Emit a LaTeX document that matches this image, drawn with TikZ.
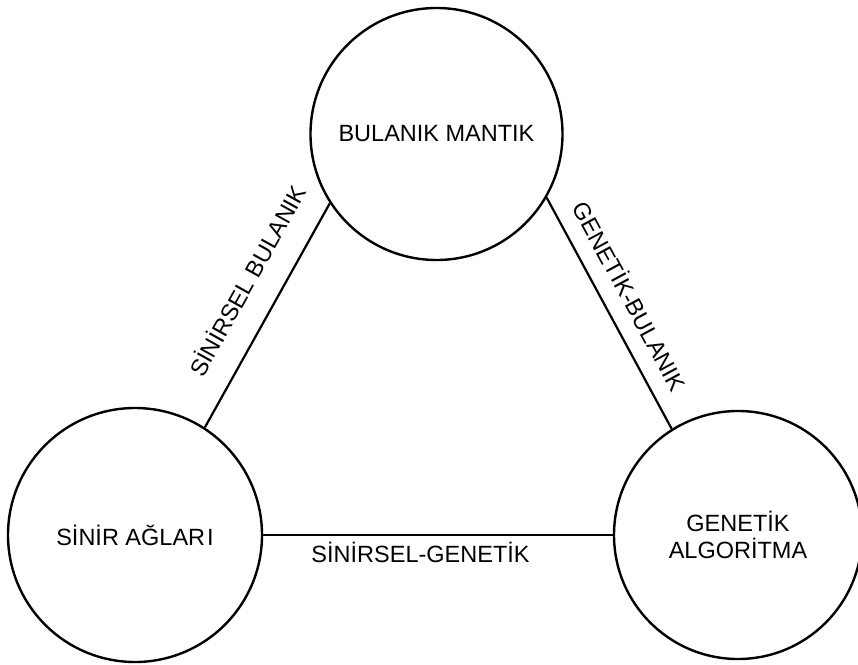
\documentclass[tikz,border=0pt]{standalone}
\usepackage{fontspec}
\setmainfont{Liberation Sans}

\tikzset{
	topic/.style={circle, draw, line width=2.4pt, inner sep=0pt, align=center,
		font=\fontsize{23.5}{27}\selectfont},
	link/.style={line width=2.2pt},
	linklabel/.style={font=\fontsize{23.5}{27}\selectfont, inner sep=0pt}
}

\begin{document}
\begin{tikzpicture}[x=1pt, y=-1pt]
		\useasboundingbox (0,0) rectangle (858,664);

		% the three fields
		\node [topic, minimum size=252pt] (bulanik) at (436.5,134) {BULANIK MANTIK};
		\node [topic, minimum size=254pt] (sinir) at (135,535) {S\.{I}N\.{I}R AĞLAR\kern2pt I};
		\node [topic, minimum size=248pt] (genetik) at (738,535) {GENET\.{I}K\\ALGOR\.{I}TMA};

		% hybrid links
		\draw [link] (sinir.57.8) -- (bulanik.213.4)
			node [linklabel, pos=0.58, sloped, above=24pt] {S\.{I}N\.{I}RSEL BULANIK};
		\draw [link] (bulanik.330.8) -- (genetik.122.7)
			node [linklabel, pos=0.48, sloped, above=16pt] {GENET\.{I}K-BULANIK};
		\draw [link] (sinir.0) -- (genetik.180)
			node [linklabel, pos=0.45, below=6pt] {S\.{I}N\.{I}RSEL-GENET\.{I}K};
	\end{tikzpicture}
\end{document}
